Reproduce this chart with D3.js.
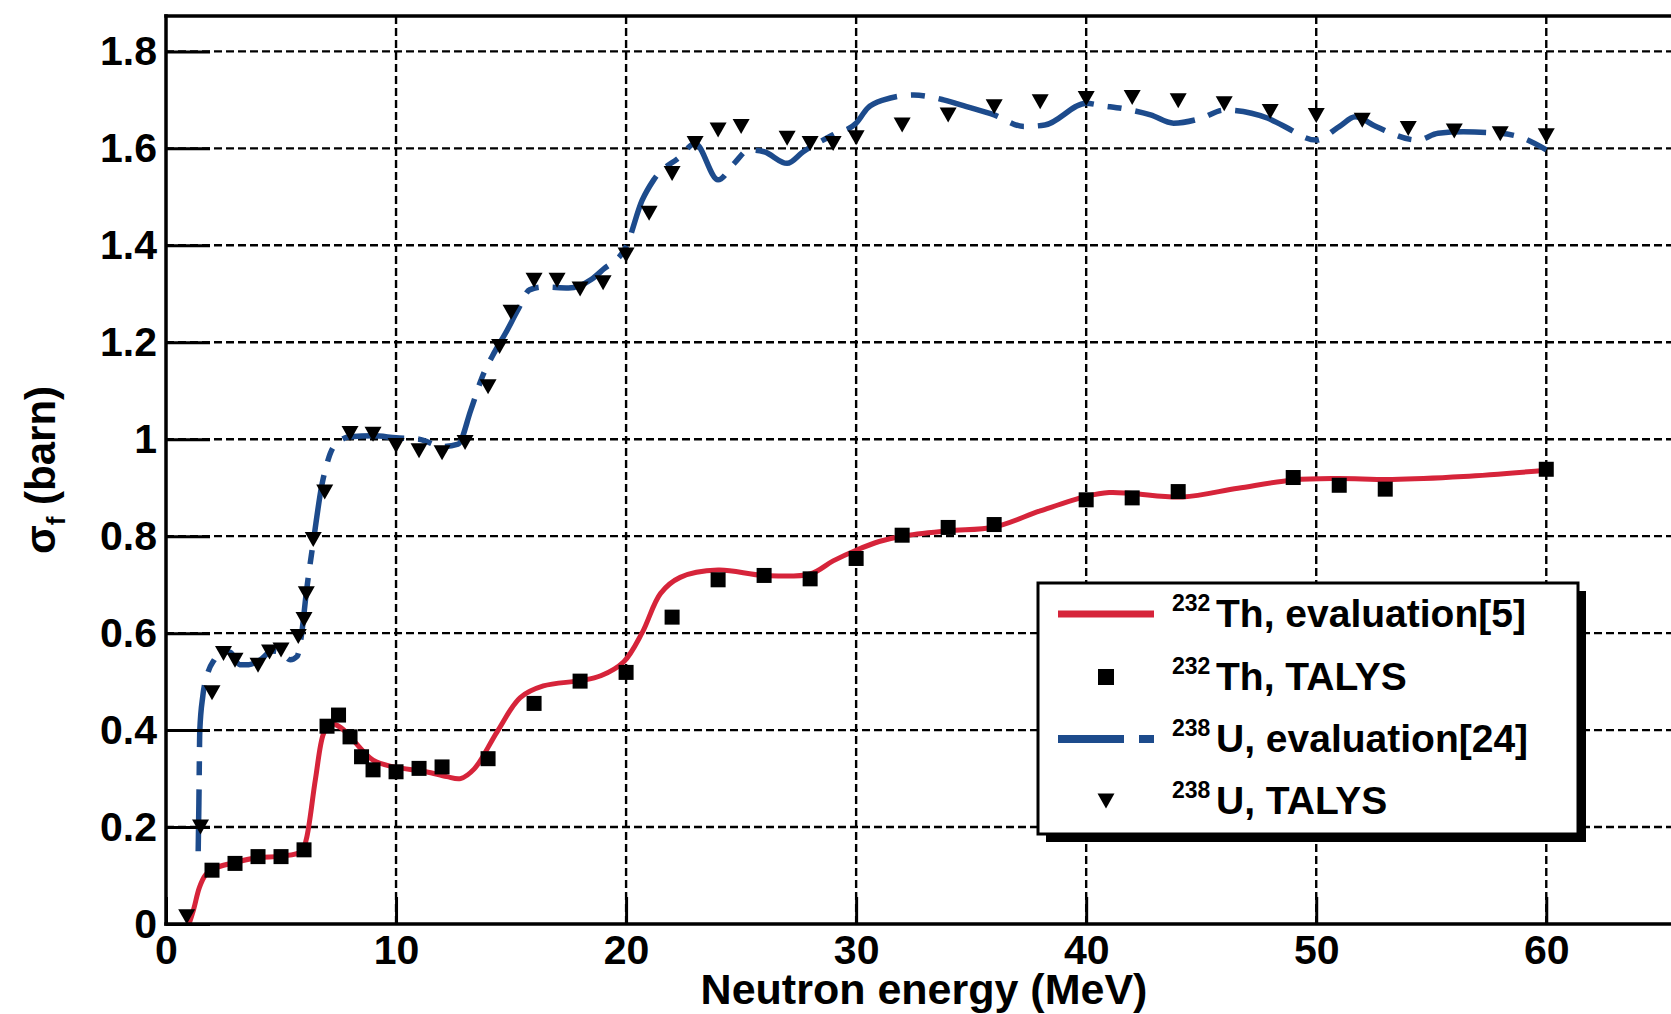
<!DOCTYPE html>
<html>
<head>
<meta charset="utf-8">
<script src="https://cdn.jsdelivr.net/npm/d3@7"></script>
<style>
  html, body { margin: 0; padding: 0; background: #ffffff; overflow: hidden; }
  svg { display: block; font-family: "Liberation Sans", Arial, Helvetica, sans-serif; }
</style>
</head>
<body>
<svg id="chart" width="1671" height="1014"></svg>
<script>
// 232Th evaluated fission cross section (smooth curve)
const thEvalE = [1.0, 1.2, 1.45, 1.7, 2.0, 3.0, 4.0, 5.0, 5.9, 6.1, 6.5, 6.85, 7.15, 7.6, 8.1, 9.0, 9.9, 11.3, 12.2, 12.8, 13.4, 14.4, 15.4, 16.4, 18.0, 18.9, 19.9, 20.7, 21.5, 22.35, 24.0, 26.0, 28.0, 29.0, 30.0, 31.0, 32.0, 34.0, 36.0, 38.0, 40.0, 41.0, 42.0, 44.2, 46.6, 49.0, 50.9, 53.3, 56.4, 60.0];
const thEvalS = [0.0, 0.03, 0.075, 0.1, 0.113, 0.127, 0.137, 0.14, 0.15, 0.175, 0.30, 0.393, 0.414, 0.405, 0.381, 0.338, 0.324, 0.314, 0.304, 0.30, 0.32, 0.397, 0.467, 0.491, 0.502, 0.512, 0.541, 0.601, 0.682, 0.715, 0.73, 0.719, 0.722, 0.749, 0.771, 0.789, 0.80, 0.811, 0.819, 0.852, 0.882, 0.89, 0.888, 0.881, 0.899, 0.916, 0.919, 0.917, 0.923, 0.936];

// 232Th TALYS calculation
const thTalysE = [2, 3, 4, 5, 6, 7, 7.5, 8, 8.5, 9, 10, 11, 12, 14, 16, 18, 20, 22, 24, 26, 28, 30, 32, 34, 36, 40, 42, 44, 49, 51, 53, 60];
const thTalysS = [0.111, 0.125, 0.139, 0.139, 0.153, 0.408, 0.431, 0.386, 0.345, 0.318, 0.314, 0.321, 0.324, 0.341, 0.455, 0.501, 0.519, 0.633, 0.71, 0.719, 0.712, 0.754, 0.802, 0.818, 0.824, 0.875, 0.879, 0.892, 0.921, 0.905, 0.897, 0.938];

// 238U evaluated fission cross section (dash-dot curve)
const uEvalE = [1.40, 1.43, 1.47, 1.6, 1.8, 2.1, 2.5, 2.8, 3.2, 3.6, 4.1, 4.6, 5.0, 5.4, 5.7, 5.9, 6.1, 6.43, 6.76, 7.0, 7.3, 8.0, 9.0, 10.0, 11.0, 12.0, 12.7, 13.25, 13.75, 14.25, 14.75, 15.3, 15.8, 16.4, 17.5, 18.5, 19.0, 20.0, 20.7, 21.2, 22.35, 23.0, 24.0, 24.7, 25.35, 26.0, 27.0, 27.7, 29.0, 30.0, 30.5, 31.2, 32.5, 33.8, 34.8, 36.0, 37.3, 38.2, 40.0, 40.7, 41.6, 42.8, 43.8, 45.0, 46.0, 47.9, 48.5, 50.0, 51.0, 51.7, 52.6, 54.4, 55.3, 56.4, 58.0, 58.8, 60.0];
const uEvalS = [0.15, 0.25, 0.40, 0.47, 0.515, 0.545, 0.562, 0.56, 0.535, 0.535, 0.545, 0.563, 0.56, 0.545, 0.552, 0.60, 0.684, 0.797, 0.902, 0.95, 0.985, 1.005, 1.007, 1.003, 1.0, 0.985, 0.99, 1.06, 1.129, 1.177, 1.218, 1.267, 1.308, 1.314, 1.312, 1.33, 1.35, 1.397, 1.493, 1.535, 1.583, 1.61, 1.535, 1.569, 1.597, 1.593, 1.569, 1.593, 1.628, 1.652, 1.683, 1.70, 1.71, 1.70, 1.686, 1.669, 1.645, 1.648, 1.693, 1.688, 1.682, 1.669, 1.652, 1.662, 1.679, 1.662, 1.648, 1.617, 1.645, 1.665, 1.645, 1.617, 1.631, 1.634, 1.631, 1.624, 1.597];

// 238U TALYS calculation
const uTalysE = [0.9, 1.5, 2, 2.5, 3, 4, 4.5, 5, 5.75, 6, 6.1, 6.4, 6.9, 8, 9, 10, 11, 12, 13, 14, 14.5, 15, 16, 17, 18, 19, 20, 21, 22, 23, 24, 25, 27, 28, 29, 30, 32, 34, 36, 38, 40, 42, 44, 46, 48, 50, 52, 54, 56, 58, 60];
const uTalysS = [0.015, 0.20, 0.477, 0.558, 0.544, 0.534, 0.561, 0.565, 0.593, 0.628, 0.681, 0.793, 0.891, 1.012, 1.01, 0.987, 0.976, 0.972, 0.993, 1.108, 1.191, 1.262, 1.328, 1.328, 1.31, 1.323, 1.38, 1.466, 1.548, 1.61, 1.638, 1.645, 1.621, 1.61, 1.61, 1.622, 1.648, 1.669, 1.686, 1.696, 1.703, 1.705, 1.698, 1.692, 1.676, 1.668, 1.658, 1.641, 1.636, 1.63, 1.626];

// Axis ticks and labels
const xMajor = [0, 10, 20, 30, 40, 50, 60];
const xMinor = d3.range(0, 66, 2);
const yMajor = [0, 0.2, 0.4, 0.6, 0.8, 1, 1.2, 1.4, 1.6, 1.8];
const yMinor = d3.range(0, 37).map(i => +(i * 0.05).toFixed(2));
const xTitle = "Neutron energy (MeV)";
const legendNuclides = ["232", "232", "238", "238"];
const legendTexts = ["Th, evaluation[5]", "Th, TALYS", "U, evaluation[24]", "U, TALYS"];

const RED = "#d6243a";
const BLUE = "#1d4b8c";

const svg = d3.select("#chart");
const x = d3.scaleLinear().domain([0, 65.9]).range([166, 1682]);
const y = d3.scaleLinear().domain([0, 1.873]).range([924, 16]);
const [x0, x1] = x.range();
const [y0, y1] = y.range();

// Dashed grid
const grid = svg.append("g").attr("stroke", "#000").attr("stroke-width", 2.4).attr("stroke-dasharray", "8,4");
grid.selectAll("line.v").data(xMajor.filter(d => d > 0)).join("line")
  .attr("x1", d => x(d)).attr("x2", d => x(d)).attr("y1", y0).attr("y2", y1);
grid.selectAll("line.h").data(yMajor.filter(d => d > 0)).join("line")
  .attr("x1", x0).attr("x2", x1).attr("y1", d => y(d)).attr("y2", d => y(d));

// Curves
const line = d3.line().x(d => x(d[0])).y(d => y(d[1]));
const thEval = thEvalE.map((e, i) => [e, thEvalS[i]]);
const uEval = uEvalE.map((e, i) => [e, uEvalS[i]]);

svg.append("path").datum(uEval)
  .attr("d", line.curve(d3.curveMonotoneX))
  .attr("fill", "none").attr("stroke", BLUE).attr("stroke-width", 5.5)
  .attr("stroke-dasharray", "62,14,14,14");

svg.append("path").datum(thEval)
  .attr("d", line.curve(d3.curveCatmullRom.alpha(0.5)))
  .attr("fill", "none").attr("stroke", RED).attr("stroke-width", 5);

// Markers
const triPath = "M-8.5,-7.5L8.5,-7.5L0,7.5Z";
svg.append("g").selectAll("rect").data(thTalysE.map((e, i) => [e, thTalysS[i]])).join("rect")
  .attr("x", d => x(d[0]) - 7.5).attr("y", d => y(d[1]) - 7.5)
  .attr("width", 15).attr("height", 15).attr("fill", "#000");
svg.append("g").selectAll("path").data(uTalysE.map((e, i) => [e, uTalysS[i]])).join("path")
  .attr("transform", d => `translate(${x(d[0])},${y(d[1])})`)
  .attr("d", triPath).attr("fill", "#000");

// Axes: ticks drawn inward
const tickFont = g => g.selectAll("text")
  .attr("font-size", 41).attr("font-weight", "bold").attr("fill", "#000");

const gx = svg.append("g").attr("transform", `translate(0,${y0})`);
gx.call(d3.axisBottom(x).tickValues(xMinor).tickSize(-13).tickFormat(""));
gx.call(d3.axisBottom(x).tickValues(xMajor).tickSize(-27).tickPadding(11).tickFormat(d3.format("d")));
gx.selectAll(".domain").remove();
gx.selectAll("line").attr("stroke", "#000").attr("stroke-width", 3);
gx.call(tickFont);

const gy = svg.append("g").attr("transform", `translate(${x0},0)`);
gy.call(d3.axisLeft(y).tickValues(yMinor).tickSize(-22).tickFormat(""));
gy.call(d3.axisLeft(y).tickValues(yMajor).tickSize(-44).tickPadding(9).tickFormat(d3.format("~g")));
gy.selectAll(".domain").remove();
gy.selectAll("line").attr("stroke", "#000").attr("stroke-width", 3);
gy.call(tickFont);

// Frame
const frame = svg.append("g").attr("stroke", "#000").attr("stroke-width", 3.5).attr("stroke-linecap", "square");
frame.append("line").attr("x1", x0).attr("x2", x0).attr("y1", y0).attr("y2", y1);
frame.append("line").attr("x1", x0).attr("x2", x1).attr("y1", y0).attr("y2", y0);
frame.append("line").attr("x1", x0).attr("x2", x1).attr("y1", y1).attr("y2", y1);

// Axis titles
svg.append("text")
  .attr("x", (x0 + x1) / 2).attr("y", 1004)
  .attr("text-anchor", "middle").attr("font-size", 43).attr("font-weight", "bold")
  .text(xTitle);

const yt = svg.append("text")
  .attr("transform", `translate(55,${(y0 + y1) / 2}) rotate(-90)`)
  .attr("text-anchor", "middle").attr("font-size", 42).attr("font-weight", "bold");
yt.append("tspan").text("σ");
yt.append("tspan").attr("font-size", 26).attr("dy", 10).text("f");
yt.append("tspan").attr("dy", -10).text(" (barn)");

// Legend
const lg = { x: 1038, y: 583, w: 540, h: 251 };
const legend = svg.append("g");
legend.append("rect").attr("x", lg.x + 8).attr("y", lg.y + 8)
  .attr("width", lg.w).attr("height", lg.h).attr("fill", "#000");
legend.append("rect").attr("x", lg.x).attr("y", lg.y)
  .attr("width", lg.w).attr("height", lg.h)
  .attr("fill", "#fff").attr("stroke", "#000").attr("stroke-width", 3);

const rowY = [614, 677, 739, 801];
const symX = [1058, 1154];
legend.append("line").attr("x1", symX[0]).attr("x2", symX[1]).attr("y1", rowY[0]).attr("y2", rowY[0])
  .attr("stroke", RED).attr("stroke-width", 7);
legend.append("rect").attr("x", 1106 - 8).attr("y", rowY[1] - 8).attr("width", 16).attr("height", 16).attr("fill", "#000");
legend.append("line").attr("x1", symX[0]).attr("x2", symX[1]).attr("y1", rowY[2]).attr("y2", rowY[2])
  .attr("stroke", BLUE).attr("stroke-width", 8).attr("stroke-dasharray", "66,15,15,15");
legend.append("path").attr("transform", `translate(1106,${rowY[3]})`).attr("d", triPath).attr("fill", "#000");

legendTexts.forEach((t, i) => {
  const base = rowY[i] + 13;
  legend.append("text").attr("x", 1172).attr("y", base - 16)
    .attr("font-size", 23).attr("font-weight", "bold").text(legendNuclides[i]);
  legend.append("text").attr("x", 1216).attr("y", base)
    .attr("font-size", 39).attr("font-weight", "bold").text(t);
});
</script>
</body>
</html>
